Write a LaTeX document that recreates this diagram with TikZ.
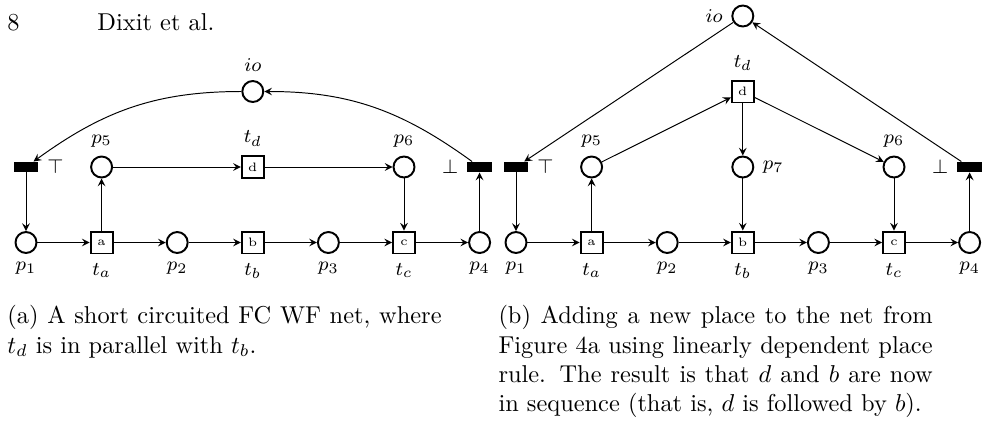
\documentclass[tikz,border=0pt]{standalone}
\usetikzlibrary{arrows}
\begin{document}
\begin{tikzpicture}[x=0.41pt,y=0.41pt,>=stealth,line width=0.4pt]
    \tikzstyle{place}=[circle,draw,thick,minimum size=8.6pt,inner sep=0pt]
    \tikzstyle{transition}=[rectangle,draw,thick,minimum size=9pt,inner sep=0pt,font=\tiny]
    \tikzstyle{silent}=[rectangle,fill=black,minimum width=10pt,minimum height=4.1pt,inner sep=0pt]
    \tikzstyle{every label}=[font=\footnotesize]
    \tikzstyle{caption}=[anchor=north west,inner sep=0pt,text width=178pt,align=justify]

    \useasboundingbox (0,0) rectangle (985,421);

    % running head
    \node[anchor=base west,inner sep=0pt] (page) at (7,391) {8};
    \node[anchor=base west,inner sep=0pt] (head) at (97,391) {Dixit et al.};

    % (a) short circuited net
    \node[place,label=above:$io$] (ioa) at (252.8,329.5) {};
    \node[silent,label=right:$\top$] (topa) at (26,254) {};
    \node[place,label=above:$p_5$] (p5a) at (101.6,254) {};
    \node[transition,label=above:$t_d$] (tda) at (252.8,254) {d};
    \node[place,label=above:$p_6$] (p6a) at (404,254) {};
    \node[silent,label=left:$\bot$] (bota) at (479.6,254) {};
    \node[place,label=below:$p_1$] (p1a) at (26,178.5) {};
    \node[transition,label=below:$t_a$] (taa) at (101.6,178.5) {a};
    \node[place,label=below:$p_2$] (p2a) at (177.2,178.5) {};
    \node[transition,label=below:$t_b$] (tba) at (252.8,178.5) {b};
    \node[place,label=below:$p_3$] (p3a) at (328.4,178.5) {};
    \node[transition,label=below:$t_c$] (tca) at (404,178.5) {c};
    \node[place,label=below:$p_4$] (p4a) at (479.6,178.5) {};

    \draw[->] (ioa) to[out=180,in=36] (topa);
    \draw[->] (bota) to[out=144,in=0] (ioa);
    \draw[->] (topa) -- (p1a);
    \draw[->] (p1a) -- (taa);
    \draw[->] (taa) -- (p2a);
    \draw[->] (p2a) -- (tba);
    \draw[->] (tba) -- (p3a);
    \draw[->] (p3a) -- (tca);
    \draw[->] (tca) -- (p4a);
    \draw[->] (p4a) -- (bota);
    \draw[->] (taa) -- (p5a);
    \draw[->] (p5a) -- (tda);
    \draw[->] (tda) -- (p6a);
    \draw[->] (p6a) -- (tca);

    % (b) with the new place p7
    \node[place,label=left:$io$] (iob) at (742.8,405) {};
    \node[transition,label=above:$t_d$] (tdb) at (742.8,329.5) {d};
    \node[silent,label=right:$\top$] (topb) at (516,254) {};
    \node[place,label=above:$p_5$] (p5b) at (591.6,254) {};
    \node[place,label=right:$p_7$] (p7b) at (742.8,254) {};
    \node[place,label=above:$p_6$] (p6b) at (894,254) {};
    \node[silent,label=left:$\bot$] (botb) at (969.6,254) {};
    \node[place,label=below:$p_1$] (p1b) at (516,178.5) {};
    \node[transition,label=below:$t_a$] (tab) at (591.6,178.5) {a};
    \node[place,label=below:$p_2$] (p2b) at (667.2,178.5) {};
    \node[transition,label=below:$t_b$] (tbb) at (742.8,178.5) {b};
    \node[place,label=below:$p_3$] (p3b) at (818.4,178.5) {};
    \node[transition,label=below:$t_c$] (tcb) at (894,178.5) {c};
    \node[place,label=below:$p_4$] (p4b) at (969.6,178.5) {};

    \draw[->] (iob) -- (topb);
    \draw[->] (botb) -- (iob);
    \draw[->] (topb) -- (p1b);
    \draw[->] (p1b) -- (tab);
    \draw[->] (tab) -- (p2b);
    \draw[->] (p2b) -- (tbb);
    \draw[->] (tbb) -- (p3b);
    \draw[->] (p3b) -- (tcb);
    \draw[->] (tcb) -- (p4b);
    \draw[->] (p4b) -- (botb);
    \draw[->] (tab) -- (p5b);
    \draw[->] (p5b) -- (tdb);
    \draw[->] (tdb) -- (p7b);
    \draw[->] (tdb) -- (p6b);
    \draw[->] (p7b) -- (tbb);
    \draw[->] (p6b) -- (tcb);

    % captions
    \node[caption] (capa) at (7,116) {(a) A short circuited FC WF net, where\linebreak
        $t_d$ is in parallel with $t_b$.};
    \node[caption] (capb) at (498,116) {(b) Adding a new place to the net from\linebreak
        Figure 4a using linearly dependent place\linebreak
        rule. The result is that $d$ and $b$ are now\linebreak
        in sequence (that is, $d$ is followed by $b$).};
\end{tikzpicture}
\end{document}
